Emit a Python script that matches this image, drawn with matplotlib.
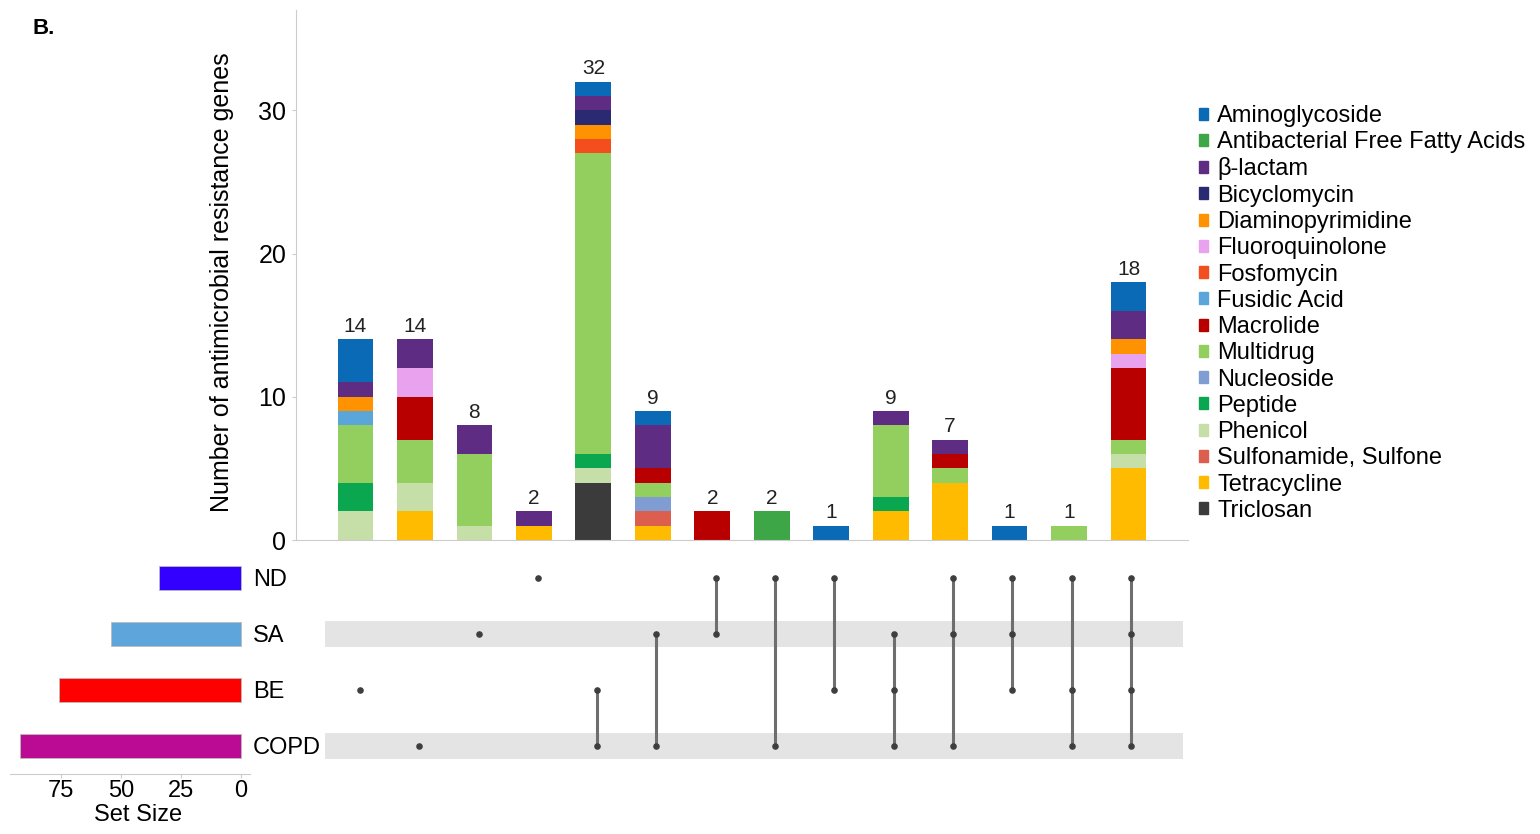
import matplotlib.pyplot as plt
from matplotlib.patches import Patch

plt.rcParams["font.family"] = ["Liberation Sans", "DejaVu Sans"]

# resistance classes, stacked bottom-to-top in reverse of this order
classes = [
    "Aminoglycoside", "Antibacterial Free Fatty Acids", "β-lactam", "Bicyclomycin",
    "Diaminopyrimidine", "Fluoroquinolone", "Fosfomycin", "Fusidic Acid",
    "Macrolide", "Multidrug", "Nucleoside", "Peptide", "Phenicol",
    "Sulfonamide, Sulfone", "Tetracycline", "Triclosan",
]
class_colors = [
    "#0A6AB6", "#3DA647", "#5E2C83", "#2A2A72", "#FF9200", "#E9A3EE",
    "#F34F1E", "#5AA6DB", "#B80000", "#92CF5E", "#7F9DD3", "#0AA650",
    "#C6DFA8", "#DB5E4F", "#FFBB00", "#3B3B3B",
]

# one column per intersection
sets = ["ND", "SA", "BE", "COPD"]
set_colors = ["#3300FF", "#5DA5DA", "#FF0000", "#BB0A94"]
intersections = [
    ("BE",), ("COPD",), ("SA",), ("ND",), ("BE", "COPD"), ("SA", "COPD"),
    ("ND", "SA"), ("ND", "COPD"), ("ND", "BE"), ("SA", "BE", "COPD"),
    ("ND", "SA", "COPD"), ("ND", "SA", "BE"), ("ND", "BE", "COPD"),
    ("ND", "SA", "BE", "COPD"),
]

aminoglycoside = [3, 0, 0, 0, 1, 1, 0, 0, 1, 0, 0, 1, 0, 2]
free_fatty_acids = [0, 0, 0, 0, 0, 0, 0, 2, 0, 0, 0, 0, 0, 0]
beta_lactam = [1, 2, 2, 1, 1, 3, 0, 0, 0, 1, 1, 0, 0, 2]
bicyclomycin = [0, 0, 0, 0, 1, 0, 0, 0, 0, 0, 0, 0, 0, 0]
diaminopyrimidine = [1, 0, 0, 0, 1, 0, 0, 0, 0, 0, 0, 0, 0, 1]
fluoroquinolone = [0, 2, 0, 0, 0, 0, 0, 0, 0, 0, 0, 0, 0, 1]
fosfomycin = [0, 0, 0, 0, 1, 0, 0, 0, 0, 0, 0, 0, 0, 0]
fusidic_acid = [1, 0, 0, 0, 0, 0, 0, 0, 0, 0, 0, 0, 0, 0]
macrolide = [0, 3, 0, 0, 0, 1, 2, 0, 0, 0, 1, 0, 0, 5]
multidrug = [4, 3, 5, 0, 21, 1, 0, 0, 0, 5, 1, 0, 1, 1]
nucleoside = [0, 0, 0, 0, 0, 1, 0, 0, 0, 0, 0, 0, 0, 0]
peptide = [2, 0, 0, 0, 1, 0, 0, 0, 0, 1, 0, 0, 0, 0]
phenicol = [2, 2, 1, 0, 1, 0, 0, 0, 0, 0, 0, 0, 0, 1]
sulfonamide = [0, 0, 0, 0, 0, 1, 0, 0, 0, 0, 0, 0, 0, 0]
tetracycline = [0, 2, 0, 1, 0, 1, 0, 0, 0, 2, 4, 0, 0, 5]
triclosan = [0, 0, 0, 0, 4, 0, 0, 0, 0, 0, 0, 0, 0, 0]

counts = [
    aminoglycoside, free_fatty_acids, beta_lactam, bicyclomycin,
    diaminopyrimidine, fluoroquinolone, fosfomycin, fusidic_acid, macrolide,
    multidrug, nucleoside, peptide, phenicol, sulfonamide, tetracycline, triclosan,
]

n_cols = len(intersections)
xs = list(range(n_cols))
totals = [sum(c[i] for c in counts) for i in xs]
set_sizes = [sum(t for t, m in zip(totals, intersections) if s in m) for s in sets]

W, H = 1540, 834
fig = plt.figure(figsize=(W / 100, H / 100), dpi=100)


def px_axes(left, top, right, bottom):
    return fig.add_axes([left / W, 1 - bottom / H, (right - left) / W, (bottom - top) / H])


grid = "#CCCCCC"

# intersection size bars
ax_bar = px_axes(296, 10, 1188, 540)
bottom = [0] * n_cols
for name, col, vals in reversed(list(zip(classes, class_colors, counts))):
    ax_bar.bar(xs, vals, width=0.6, bottom=bottom, color=col, label=name)
    bottom = [b + v for b, v in zip(bottom, vals)]
for x, t in zip(xs, totals):
    ax_bar.text(x, t + 0.25, str(t), ha="center", va="bottom", fontsize=15, color="#222222")
ax_bar.set_xlim(-1, 14)
ax_bar.set_ylim(0, 37)
ax_bar.set_yticks([0, 10, 20, 30])
ax_bar.set_xticks([])
ax_bar.tick_params(axis="y", labelsize=18, color=grid, length=3, pad=4)
for side in ("top", "right"):
    ax_bar.spines[side].set_visible(False)
for side in ("left", "bottom"):
    ax_bar.spines[side].set_color(grid)
ax_bar.set_ylabel("Number of antimicrobial resistance genes", fontsize=18)
ax_bar.yaxis.set_label_coords(-0.07, 0.487)

# membership matrix
ax_mat = px_axes(325, 555, 1183, 774)
ax_mat.set_xlim(-0.59, 13.88)
ax_mat.set_ylim(3.5, -0.41)
for r in (1, 3):
    ax_mat.axhspan(r - 0.24, r + 0.24, color="#E4E4E4", lw=0)
for x, m in zip(xs, intersections):
    rows = [sets.index(s) for s in m]
    if len(rows) > 1:
        ax_mat.plot([x, x], [min(rows), max(rows)], color="#6E6E6E", lw=2.2, zorder=2)
    ax_mat.scatter([x] * len(rows), rows, s=14, color="#3E3E3E", zorder=3)
ax_mat.axis("off")

# set size bars
ax_set = px_axes(10, 555, 250, 774)
ax_set.barh(range(len(sets)), set_sizes, height=0.43, color=set_colors,
            edgecolor="#BBBBBB", linewidth=0.6)
ax_set.set_xlim(96.25, -3.75)
ax_set.set_ylim(3.5, -0.41)
ax_set.set_xticks([75, 50, 25, 0])
ax_set.set_yticks(range(len(sets)))
ax_set.set_yticklabels(sets)
ax_set.yaxis.tick_right()
ax_set.tick_params(axis="y", length=0, pad=2, labelsize=17)
ax_set.tick_params(axis="x", labelsize=17, color=grid, length=3, pad=1)
for side in ("top", "right", "left"):
    ax_set.spines[side].set_visible(False)
ax_set.spines["bottom"].set_color(grid)
ax_set.set_xlabel("Set Size", fontsize=17)
ax_set.xaxis.set_label_coords(0.535, -0.135)
ax_set.xaxis.label.set_va("top")

handles = [Patch(color=c, label=n) for n, c in zip(classes, class_colors)]
fig.legend(handles=handles, loc="upper left", bbox_to_anchor=(1199 / W, 1 - 105 / H),
           frameon=False, fontsize=17, handlelength=0.4, handleheight=0.4,
           handletextpad=0.38, labelspacing=0.18, borderaxespad=0, borderpad=0)

fig.text(33 / W, 1 - 28 / H, "B.", fontsize=16, fontweight="bold", va="center")

fig.savefig("out.png", dpi=100)
